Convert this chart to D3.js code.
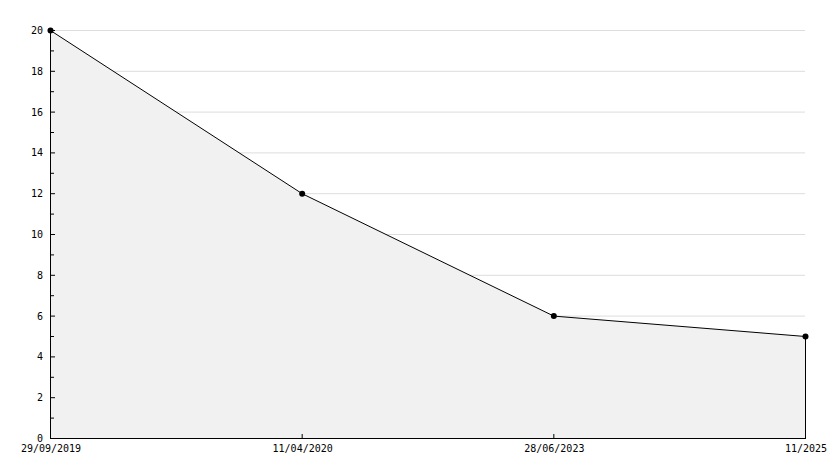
<!DOCTYPE html>
<html><head><meta charset="utf-8">
<script src="https://cdn.jsdelivr.net/npm/d3@7"></script>
<style>body{margin:0;background:#fff}svg text{font-family:"DejaVu Sans Mono",monospace;font-size:10px;fill:#000}</style>
</head><body><svg id="c" width="834" height="468"></svg>
<script>
const categories = ["29/09/2019","11/04/2020","28/06/2023","11/2025"];
const values = [20,12,6,5];
const yTicks = [0,2,4,6,8,10,12,14,16,18,20];
const yMinor = [1,3,5,7,9,11,13,15,17,19];

const svg = d3.select("#c");
const x = d3.scalePoint().domain(categories).range([50,805]);
const y = d3.scaleLinear().domain([0,20]).range([438,30]);

// gridlines
svg.append("g").selectAll("line").data(yTicks.filter(d=>d>0)).join("line")
  .attr("x1",50).attr("x2",805).attr("y1",d=>y(d)+0.5).attr("y2",d=>y(d)+0.5)
  .attr("stroke","#dddddd").attr("stroke-width",1);

const data = categories.map((c,i)=>({c,v:values[i]}));
const area = d3.area().x(d=>x(d.c)+0.5).y0(y(0)).y1(d=>y(d.v)+0.5);
svg.append("path").datum(data).attr("d",area).attr("fill","#f1f1f1");
// right edge
svg.append("line").attr("x1",x(categories[3])+0.5).attr("x2",x(categories[3])+0.5)
  .attr("y1",y(values[3])).attr("y2",y(0)).attr("stroke","#000");
const line = d3.line().x(d=>x(d.c)+0.5).y(d=>y(d.v)+0.5);
svg.append("path").datum(data).attr("d",line).attr("fill","none").attr("stroke","#000").attr("stroke-width",1);

// y axis
const ya = svg.append("g");
ya.append("line").attr("x1",50.5).attr("x2",50.5).attr("y1",30).attr("y2",438.5).attr("stroke","#000");
ya.selectAll(".mj").data(yTicks).join("line").attr("class","mj")
  .attr("x1",50).attr("x2",55).attr("y1",d=>y(d)+0.5).attr("y2",d=>y(d)+0.5).attr("stroke","#000");
ya.selectAll(".mn").data(yMinor).join("line").attr("class","mn")
  .attr("x1",50).attr("x2",54).attr("y1",d=>y(d)+0.5).attr("y2",d=>y(d)+0.5).attr("stroke","#000");
ya.selectAll("text").data(yTicks).join("text")
  .attr("x",43).attr("y",d=>y(d)+4).attr("text-anchor","end").text(d=>d);

// x axis
const xa = svg.append("g");
xa.append("line").attr("x1",50).attr("x2",806).attr("y1",438.5).attr("y2",438.5).attr("stroke","#000");
xa.selectAll("line.t").data(categories).join("line").attr("class","t")
  .attr("x1",d=>x(d)+0.5).attr("x2",d=>x(d)+0.5).attr("y1",434).attr("y2",438).attr("stroke","#000");
xa.selectAll("text").data(categories).join("text")
  .attr("x",d=>x(d)+1).attr("y",452).attr("text-anchor","middle").text(d=>d);

// markers
svg.selectAll("circle.m").data(data).join("circle").attr("class","m")
  .attr("cx",d=>x(d.c)+0.5).attr("cy",d=>y(d.v)+0.5).attr("r",3).attr("fill","#000");
</script></body></html>
